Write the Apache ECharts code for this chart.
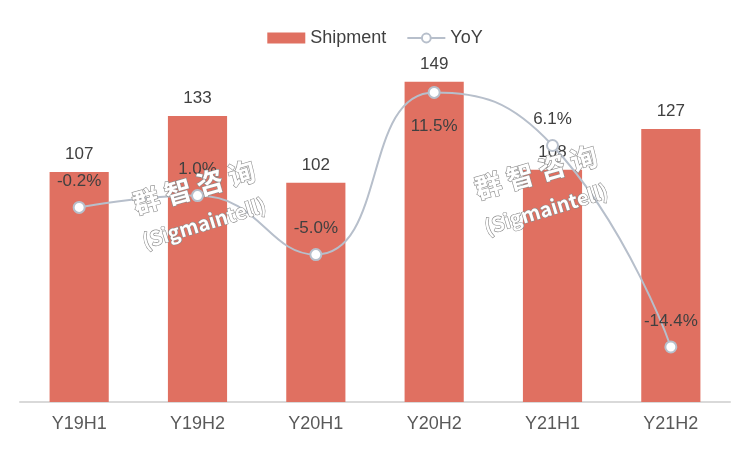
<!DOCTYPE html>
<html><head><meta charset="utf-8">
<script src="https://cdn.jsdelivr.net/npm/echarts@6/dist/echarts.min.js"></script>
<style>html,body{margin:0;padding:0;background:#fff}#c{width:750px;height:456px}</style>
</head><body><div id="c"></div>
<script>
const categories = ['Y19H1','Y19H2','Y20H1','Y20H2','Y21H1','Y21H2'];
const shipment = [107,133,102,149,108,127];
const yoy = [-0.2,1.0,-5.0,11.5,6.1,-14.4];
const yoyLabelPos = ['top','top','top','bottom','top','top'];

const chart = echarts.init(document.getElementById('c'));
const font = 'Arial, "Liberation Sans", sans-serif';
const wmText = {
  fill: '#fff', stroke: '#8a8a8a', lineWidth: 1.2,
  fontFamily: '"Noto Sans CJK SC", sans-serif', fontWeight: 'bold',
  align: 'center', verticalAlign: 'middle'
};
function wm(x, y, text, size, rot){
  return {type:'text', x:x, y:y, rotation: rot*Math.PI/180, z:100,
    style: Object.assign({}, wmText, {text:text, fontSize:size})};
}
chart.setOption({
  animation:false,
  textStyle:{fontFamily:font},
  legend:{
    top:24, left:'center', itemGap:20, itemWidth:38, itemHeight:11,
    textStyle:{fontSize:18, color:'#404040', fontFamily:font},
    data:[{name:'Shipment', icon:'rect'},{name:'YoY'}]
  },
  grid:{left:20, right:20, top:58, bottom:54},
  xAxis:{
    type:'category', data:categories,
    axisLine:{lineStyle:{color:'#d9d9d9', width:2}},
    axisTick:{show:false},
    axisLabel:{fontSize:18, color:'#595959', margin:13, fontFamily:font}
  },
  yAxis:[
    {type:'value', min:0, max:160, show:false, splitLine:{show:false}},
    {type:'value', min:-20, max:15, show:false, splitLine:{show:false}}
  ],
  series:[
    {name:'Shipment', type:'bar', data:shipment, barWidth:'50%',
     itemStyle:{color:'#E07061'},
     label:{show:true, position:'top', distance:9, fontSize:17, color:'#404040', fontFamily:font}},
    {name:'YoY', type:'line', yAxisIndex:1, smooth:0.5,
     data: yoy.map((v,i)=>({value:v, label:{position:yoyLabelPos[i], distance: yoyLabelPos[i]==='bottom'?19:11}})),
     symbol:'circle', symbolSize:11,
     lineStyle:{color:'#B7BFCB', width:2},
     itemStyle:{color:'#fff', borderColor:'#B7BFCB', borderWidth:2},
     label:{show:true, fontSize:17, color:'#404040', fontFamily:font,
       formatter: p => p.value.toFixed(1)+'%'}}
  ],
  graphic:[
    wm(194,187,'群 智 咨 询',27,16),
    wm(204,223,'(Sigmaintell)',20,17),
    wm(536,172,'群 智 咨 询',27,16),
    wm(546,209,'(Sigmaintell)',20,17)
  ]
});
</script></body></html>
